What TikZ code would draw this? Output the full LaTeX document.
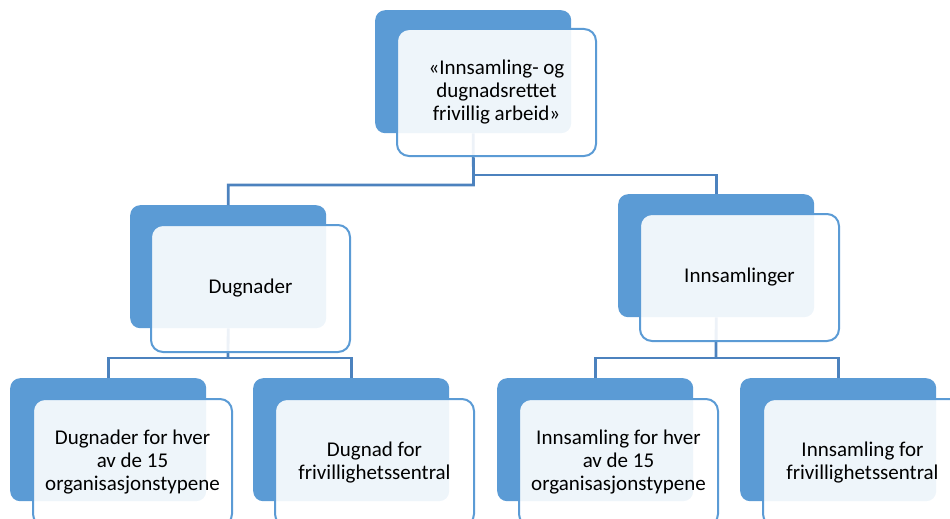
\documentclass[tikz,border=0pt]{standalone}
\usepackage{fontspec}
\setmainfont{Carlito}
\definecolor{acc}{HTML}{5B9BD5}
\definecolor{conncol}{HTML}{4C82BE}
\begin{document}
\begin{tikzpicture}[x=1pt,y=-1pt,
 back/.style={draw=none,fill=acc,rounded corners=10pt,minimum width=196pt,minimum height=123pt,inner sep=0pt,anchor=north west},
 front/.style={draw=acc,line width=2pt,fill=white,fill opacity=0.9,text opacity=1,rounded corners=12pt,minimum width=199pt,minimum height=127pt,inner sep=0pt,anchor=north west,align=center,font=\fontsize{21}{23}\selectfont},
 link/.style={draw=conncol,line width=2.8pt}]
\path[use as bounding box] (0,0) rectangle (950,519);
\clip (0,0) rectangle (950,519);
% back boxes
\node[back] (b0) at (375,10) {};
\node[back] (b1) at (130,205) {};
\node[back] (b2) at (618,194) {};
\node[back] (b3) at (10,378) {};
\node[back] (b4) at (253,378) {};
\node[back] (b5) at (497,378) {};
\node[back] (b6) at (740,378) {};
% connectors
\coordinate (t1) at (473.5,185);
\coordinate (t2) at (473.5,175);
\coordinate (d1) at (228,358);
\coordinate (i1) at (716,358);
\draw[link] (b0.south) -- (t1) -| (b1.north);
\draw[link] (t2) -| (b2.north);
\draw[link] (b1.south) -- (d1);
\draw[link] (b3.north) |- (d1) -| (b4.north);
\draw[link] (b2.south) -- (i1);
\draw[link] (b5.north) |- (i1) -| (b6.north);
% front boxes
\node[front] (f0) at (396,28) {«Innsamling- og\\dugnadsrettet\\frivillig arbeid»};
\node[front] (f1) at (150,224) {Dugnader};
\node[front] (f2) at (639,213) {Innsamlinger};
\node[front] (f3) at (32,398) {Dugnader for hver\\av de 15\\organisasjonstypene};
\node[front] (f4) at (274,398) {Dugnad for\\frivillighetssentral};
\node[front] (f5) at (518,398) {Innsamling for hver\\av de 15\\organisasjonstypene};
\node[front] (f6) at (762,398) {Innsamling for\\frivillighetssentral};
\end{tikzpicture}
\end{document}
